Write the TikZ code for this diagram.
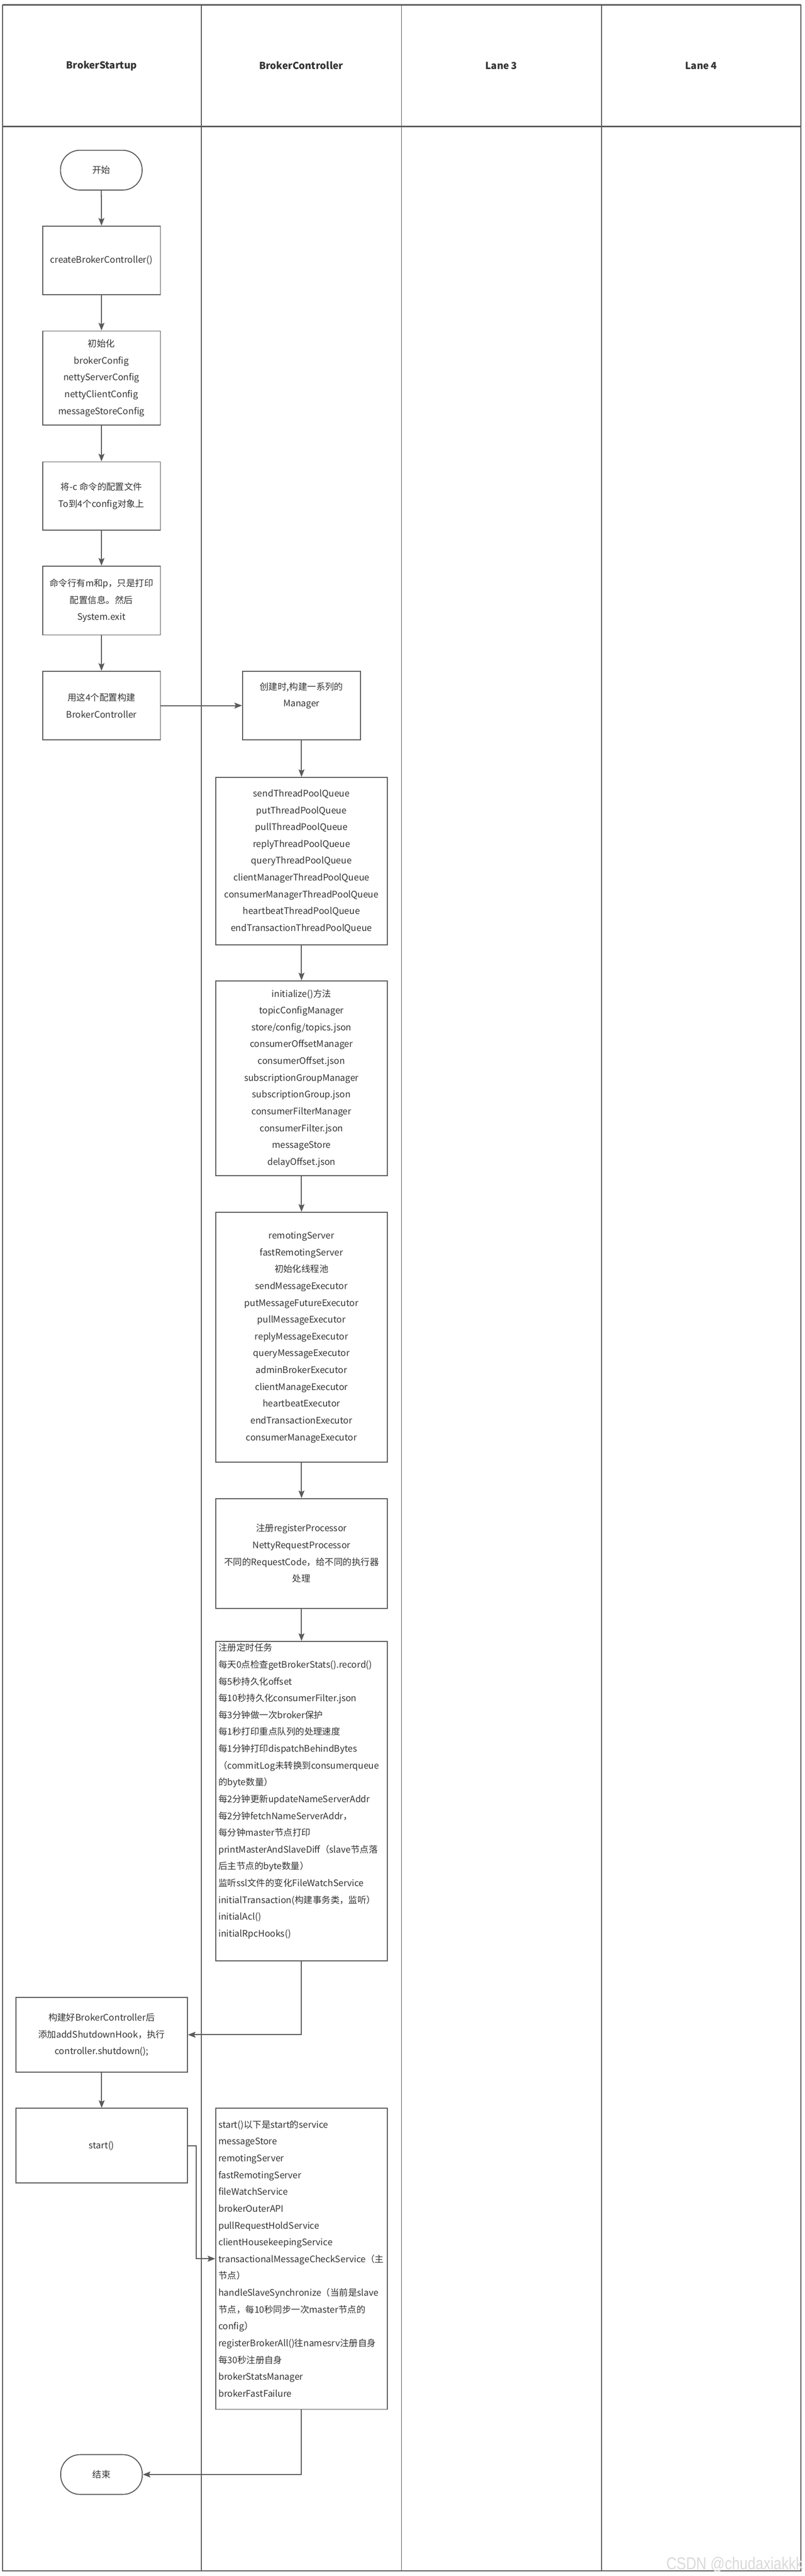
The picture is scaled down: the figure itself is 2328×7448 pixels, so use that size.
\documentclass[tikz,border=0pt]{standalone}
\usepackage{fontspec}
\setmainfont{Noto Sans CJK SC}
\newfontfamily\markfont{Liberation Sans}
\usetikzlibrary{arrows.meta}
\definecolor{linegray}{HTML}{5A5A5A}
\definecolor{textgray}{HTML}{333333}
\definecolor{markgray}{HTML}{D9D9D9}
\newcommand{\boxfont}{\fontsize{26}{48.6}\selectfont}

\begin{document}
\begin{tikzpicture}[x=1pt,y=-1pt]
  \tikzset{lane/.style = {draw=linegray, line width=2.5pt}}
  \tikzset{rule/.style = {draw=linegray, line width=4pt}}
  \tikzset{head/.style = {text=textgray, font=\fontsize{28}{34}\selectfont\bfseries}}
  \tikzset{stepbox/.style = {draw=linegray, line width=2.8pt, text=textgray, font=\boxfont, align=center, inner sep=6pt}}
  \tikzset{listbox/.style = {stepbox, align=left, text width=480pt, inner xsep=8pt}}
  \tikzset{terminal/.style = {stepbox, rounded corners=56pt, minimum width=236pt, minimum height=115pt}}
  \tikzset{flow/.style = {draw=linegray, line width=3pt, -{Stealth[length=22pt,width=17pt,inset=4pt]}}}

\useasboundingbox (0,0) rectangle (2328,7448);

% lanes
\draw[lane] (7,14) rectangle (2316,7433);
\foreach \x in {582,1161,1740}
  \draw[lane] (\x,14) -- (\x,7433);
\draw[rule] (7,14) -- (2316,14);
\draw[rule] (7,366) -- (2316,366);
\draw[rule] (7,7433) -- (2316,7433);

\node[head] (hstartup)    at (294,190)  {BrokerStartup};
\node[head] (hcontroller) at (871,190)  {BrokerController};
\node[head] (hlane3)      at (1450,190) {Lane 3};
\node[head] (hlane4)      at (2028,190) {Lane 4};

% BrokerStartup
\node[terminal] (begin) at (293,492) {开始};
\node[stepbox, minimum width=341pt, minimum height=198pt] (create) at (293.5,753) {createBrokerController()};
\node[stepbox, minimum width=341pt, minimum height=272pt] (initcfg) at (293.5,1093)
  {初始化\\brokerConfig\\nettyServerConfig\\nettyClientConfig\\messageStoreConfig};
\node[stepbox, minimum width=341pt, minimum height=197pt] (tocfg) at (293.5,1434)
  {将-c 命令的配置文件\\To到4个config对象上};
\node[stepbox, minimum width=341pt, minimum height=199pt] (cmdline) at (293.5,1736.5)
  {命令行有m和p，只是打印\\配置信息。然后\\System.exit};
\node[stepbox, minimum width=341pt, minimum height=198pt] (build) at (293.5,2040)
  {用这4个配置构建\\BrokerController};

% BrokerController
\node[stepbox, minimum width=341pt, minimum height=198pt] (manager) at (872,2040)
  {创建时,构建一系列的\\Manager\\\strut};
\node[stepbox, minimum width=496pt, minimum height=484pt] (queues) at (872,2490)
  {sendThreadPoolQueue\\putThreadPoolQueue\\pullThreadPoolQueue\\replyThreadPoolQueue\\queryThreadPoolQueue\\clientManagerThreadPoolQueue\\consumerManagerThreadPoolQueue\\heartbeatThreadPoolQueue\\endTransactionThreadPoolQueue};
\node[stepbox, minimum width=496pt, minimum height=563pt] (initmgr) at (872,3117.5)
  {initialize()方法\\topicConfigManager\\store/config/topics.json\\consumerOffsetManager\\consumerOffset.json\\subscriptionGroupManager\\subscriptionGroup.json\\consumerFilterManager\\consumerFilter.json\\messageStore\\delayOffset.json};
\node[stepbox, minimum width=496pt, minimum height=723pt] (remoting) at (872,3866.5)
  {remotingServer\\fastRemotingServer\\初始化线程池\\sendMessageExecutor\\putMessageFutureExecutor\\pullMessageExecutor\\replyMessageExecutor\\queryMessageExecutor\\adminBrokerExecutor\\clientManageExecutor\\heartbeatExecutor\\endTransactionExecutor\\consumerManageExecutor};
\node[stepbox, minimum width=496pt, minimum height=317pt] (register) at (872,4491.5)
  {注册registerProcessor\\NettyRequestProcessor\\不同的RequestCode，给不同的执行器\\处理};
\node[listbox, minimum height=903pt] (tasks) at (872,5207.5)
  {注册定时任务\\
   每天0点检查getBrokerStats().record()\\
   每5秒持久化offset\\
   每10秒持久化consumerFilter.json\\
   每3分钟做一次broker保护\\
   每1秒打印重点队列的处理速度\\
   每1分钟打印dispatchBehindBytes\\
   （commitLog未转换到consumerqueue\\
   的byte数量）\\
   每2分钟更新updateNameServerAddr\\
   每2分钟fetchNameServerAddr，\\
   每分钟master节点打印\\
   printMasterAndSlaveDiff（slave节点落\\
   后主节点的byte数量）\\
   监听ssl文件的变化FileWatchService\\
   initialTransaction(构建事务类，监听）\\
   initialAcl()\\
   initialRpcHooks()\\
   \strut};

% back in BrokerStartup
\node[stepbox, minimum width=496pt, minimum height=216pt] (shutdown) at (294,5883)
  {构建好BrokerController后\\添加addShutdownHook，执行\\controller.shutdown();};
\node[stepbox, minimum width=496pt, minimum height=215pt] (startcall) at (294,6203.5) {start()};
\node[listbox, minimum height=871pt] (services) at (872,6530.5)
  {start()以下是start的service\\
   messageStore\\
   remotingServer\\
   fastRemotingServer\\
   fileWatchService\\
   brokerOuterAPI\\
   pullRequestHoldService\\
   clientHousekeepingService\\
   transactionalMessageCheckService（主\\
   节点）\\
   handleSlaveSynchronize（当前是slave\\
   节点，每10秒同步一次master节点的\\
   config）\\
   registerBrokerAll()往namesrv注册自身\\
   每30秒注册自身\\
   brokerStatsManager\\
   brokerFastFailure};
\node[terminal] (finish) at (293.5,7154.5) {结束};

\draw[flow] (begin.south) -- (create.north);
\draw[flow] (create.south) -- (initcfg.north);
\draw[flow] (initcfg.south) -- (tocfg.north);
\draw[flow] (tocfg.south) -- (cmdline.north);
\draw[flow] (cmdline.south) -- (build.north);
\draw[flow] (build.east) -- (manager.west);
\draw[flow] (manager.south) -- (queues.north);
\draw[flow] (queues.south) -- (initmgr.north);
\draw[flow] (initmgr.south) -- (remoting.north);
\draw[flow] (remoting.south) -- (register.north);
\draw[flow] (register.south) -- (tasks.north);
\draw[flow] (tasks.south) |- (shutdown.east);
\draw[flow] (shutdown.south) -- (startcall.north);
\draw[flow] (startcall.east) -- ++(24,0) |- (services.west);
\draw[flow] (services.south) |- (finish.east);

\node[text=markgray, font=\markfont\fontsize{50}{50}\selectfont, anchor=base east, xscale=0.82] (mark) at (2325,7430) {CSDN @chudaxiakkk};

\end{tikzpicture}
\end{document}
